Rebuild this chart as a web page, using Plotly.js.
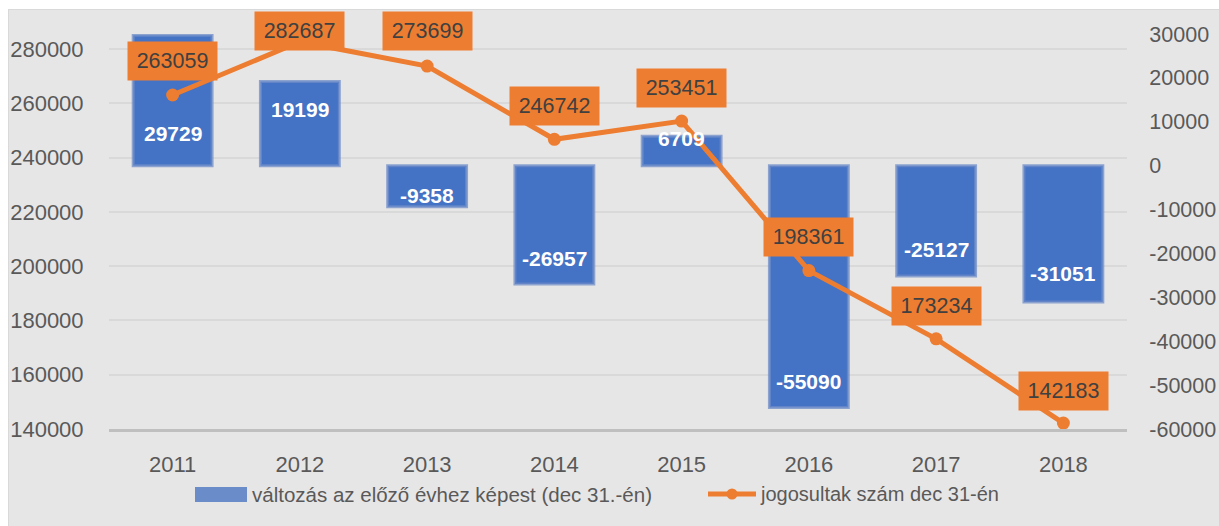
<!DOCTYPE html>
<html>
<head>
<meta charset="utf-8">
<script src="https://cdn.plot.ly/plotly-3.0.1.min.js"></script>
<style>
  html, body { margin: 0; padding: 0; background: #ffffff; width: 1219px; height: 526px; overflow: hidden; }
  #chart { position: absolute; left: 8px; top: 9px; width: 1211px; height: 517px; border-top: 1px solid #d9d9d9; border-left: 1px solid #d9d9d9; box-sizing: border-box; }
</style>
</head>
<body>
<div id="chart"></div>
<script>
// ---- data ----
const years = ['2011', '2012', '2013', '2014', '2015', '2016', '2017', '2018'];
const changeValues = [29729, 19199, -9358, -26957, 6709, -55090, -25127, -31051];
const holderValues = [263059, 282687, 273699, 246742, 253451, 198361, 173234, 142183];
const changeName = 'változás az előző évhez képest (dec 31.-én)';
const holderName = 'jogosultak szám dec 31-én';
const rightTicks = [30000, 20000, 10000, 0, -10000, -20000, -30000, -40000, -50000, -60000];
const leftTicks = [280000, 260000, 240000, 220000, 200000, 180000, 160000, 140000];

// ---- label placement (pixel offsets) ----
const changeLabelShift = [-98, -28, 11, 25, -2, 26, 26, 28];
const holderLabelShift = [34, 11, 35, 33, 33, 34, 33, 32];

const FONT = 'Liberation Sans, Arial, sans-serif';
const BLUE = '#4472c4';
const ORANGE = '#ed7d31';
const TXT = '#595959';

const bars = {
  type: 'bar', x: years, y: changeValues, name: changeName,
  yaxis: 'y', width: 0.62,
  marker: { color: BLUE, line: { color: 'rgba(110,140,200,0.75)', width: 3 } },
  showlegend: false
};
const line = {
  type: 'scatter', mode: 'lines+markers', x: years, y: holderValues, name: holderName,
  yaxis: 'y2',
  line: { color: ORANGE, width: 5 },
  marker: { color: ORANGE, size: 13 },
  showlegend: false
};

const annotations = [];
years.forEach((yr, i) => {
  annotations.push({
    x: i, y: changeValues[i], xref: 'x', yref: 'y',
    text: '<b>' + changeValues[i] + '</b>', showarrow: false,
    yshift: changeLabelShift[i],
    font: { family: FONT, size: 21, color: '#ffffff' }
  });
});
years.forEach((yr, i) => {
  annotations.push({
    x: i, y: holderValues[i], xref: 'x', yref: 'y2',
    text: String(holderValues[i]), showarrow: false,
    yshift: holderLabelShift[i],
    bgcolor: ORANGE, width: 89, height: 38, borderpad: 0,
    font: { family: FONT, size: 21.5, color: '#404040' }
  });
});

// custom legend (pixel -> paper conversion)
const PL = 108, PW = 1018, PB = 428, PH = 395;
const px = v => (v - PL) / PW;
const py = v => (PB - v) / PH;
annotations.push({
  x: px(249), y: py(493), xref: 'paper', yref: 'paper', xanchor: 'left', yanchor: 'middle',
  text: changeName, showarrow: false, font: { family: FONT, size: 20.5, color: TXT }
});
annotations.push({
  x: px(757), y: py(493), xref: 'paper', yref: 'paper', xanchor: 'left', yanchor: 'middle',
  text: holderName, showarrow: false, font: { family: FONT, size: 20, color: TXT }
});
const shapes = [
  { type: 'rect', xref: 'paper', yref: 'paper', x0: px(194), x1: px(246), y0: py(486), y1: py(501),
    fillcolor: '#6a8cc8', line: { width: 0 } },
  { type: 'line', xref: 'paper', yref: 'paper', x0: px(707), x1: px(755), y0: py(493), y1: py(493),
    line: { color: ORANGE, width: 5 } },
  { type: 'circle', xref: 'paper', yref: 'paper', x0: px(725.5), x1: px(736.5), y0: py(487.5), y1: py(498.5),
    fillcolor: ORANGE, line: { width: 0 } }
];

const layout = {
  width: 1211, height: 517,
  margin: { l: 100, r: 93, t: 24, b: 98 },
  paper_bgcolor: '#e7e6e6', plot_bgcolor: 'rgba(0,0,0,0)',
  font: { family: FONT, size: 20, color: TXT },
  showlegend: false,
  xaxis: {
    type: 'category', range: [-0.5, years.length - 0.5], autorange: false,
    showgrid: false, zeroline: false,
    showline: true, linecolor: '#bfbfbf', linewidth: 3,
    ticks: 'outside', ticklen: 14, tickcolor: 'rgba(0,0,0,0)',
    tickfont: { family: FONT, size: 22, color: TXT }
  },
  yaxis: {
    side: 'right', range: [-60000, 30000], autorange: false,
    tickmode: 'array', tickvals: rightTicks, ticktext: rightTicks.map(String),
    showgrid: false, zeroline: false, showline: false,
    ticks: 'outside', ticklen: 17, tickcolor: 'rgba(0,0,0,0)',
    tickfont: { family: FONT, size: 21.5, color: TXT }
  },
  yaxis2: {
    overlaying: 'y', side: 'left', range: [140000, 285530], autorange: false,
    tickmode: 'array', tickvals: leftTicks, ticktext: leftTicks.map(String),
    showgrid: true, gridcolor: '#d9d9d9', gridwidth: 2, zeroline: false, showline: false,
    ticks: 'outside', ticklen: 20, tickcolor: 'rgba(0,0,0,0)',
    tickfont: { family: FONT, size: 22, color: TXT }
  },
  annotations: annotations,
  shapes: shapes
};

Plotly.newPlot('chart', [bars, line], layout, { displayModeBar: false, staticPlot: true });
</script>
</body>
</html>
